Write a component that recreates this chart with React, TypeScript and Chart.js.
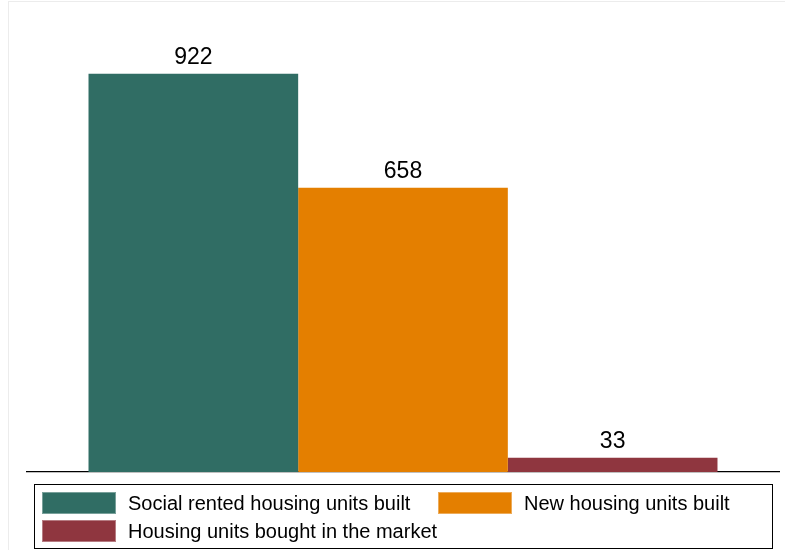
import React, { useEffect, useRef } from "react";
import { Chart, registerables } from "chart.js";

Chart.register(...registerables);

const categories = [""];
const seriesNames = [
  "Social rented housing units built",
  "New housing units built",
  "Housing units bought in the market",
];
const seriesValues = [922, 658, 33];
const seriesColors = ["#306d64", "#e47f00", "#8f363f"];
const yMax = 1000;

const FONT = "'Liberation Sans', Arial, Helvetica, sans-serif";

const valueLabels = {
  id: "valueLabels",
  afterDatasetsDraw(chart: any) {
    const ctx = chart.ctx;
    ctx.save();
    ctx.fillStyle = "#000";
    ctx.font = `23px ${FONT}`;
    ctx.textAlign = "center";
    ctx.textBaseline = "alphabetic";
    chart.data.datasets.forEach((ds: any, i: number) => {
      const meta = chart.getDatasetMeta(i);
      meta.data.forEach((bar: any, j: number) => {
        ctx.fillText(String(ds.data[j]), bar.x, bar.y - 10);
      });
    });
    ctx.restore();
  },
};

export default function App() {
  const ref = useRef<HTMLCanvasElement | null>(null);
  useEffect(() => {
    if (!ref.current) return;
    const chart = new Chart(ref.current, {
      type: "bar",
      data: {
        labels: categories,
        datasets: seriesNames.map((name, i) => ({
          label: name,
          data: [seriesValues[i]],
          backgroundColor: seriesColors[i],
          borderWidth: 0,
          barPercentage: 1,
          categoryPercentage: 0.8364,
        })),
      },
      options: {
        animation: false,
        responsive: false,
        maintainAspectRatio: false,
        layout: { padding: { left: 27, right: 6, top: 40, bottom: 78 } },
        plugins: { legend: { display: false }, tooltip: { enabled: false } },
        scales: {
          x: {
            display: true,
            grid: { display: false, drawTicks: false },
            ticks: { display: false },
            border: { display: true, color: "#000", width: 1.2 },
          },
          y: { display: false, min: 0, max: yMax },
        },
      },
      plugins: [valueLabels],
    });
    return () => chart.destroy();
  }, []);

  const legendItem = (i: number, left: number, top: number) => (
    <div
      key={i}
      style={{ position: "absolute", left, top, height: 22, display: "flex", alignItems: "center" }}
    >
      <div style={{ width: 74, height: 22, background: seriesColors[i], boxSizing: "border-box", border: "1px solid rgba(255,255,255,0.35)" }} />
      <span style={{ marginLeft: 12, fontSize: 20, fontFamily: FONT, color: "#000", whiteSpace: "nowrap" }}>
        {seriesNames[i]}
      </span>
    </div>
  );

  return (
    <div style={{ position: "fixed", left: 0, top: 0, width: 785, height: 550, background: "#fff", overflow: "hidden" }}>
      <div
        style={{
          position: "absolute",
          left: 8,
          top: 1,
          width: 800,
          height: 600,
          borderTop: "1px solid #ececec",
          borderLeft: "1px solid #ececec",
        }}
      />
      <canvas ref={ref} width={785} height={550} style={{ position: "absolute", left: 0, top: 0 }} />
      <div
        style={{
          position: "absolute",
          left: 34,
          top: 484,
          width: 739,
          height: 65,
          boxSizing: "border-box",
          border: "1.3px solid #000",
        }}
      />
      {legendItem(0, 42, 492)}
      {legendItem(1, 438, 492)}
      {legendItem(2, 42, 520)}
    </div>
  );
}
